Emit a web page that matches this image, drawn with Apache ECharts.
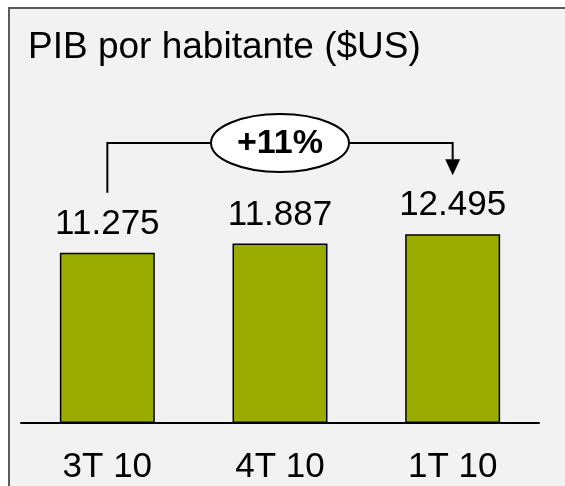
<!DOCTYPE html>
<html>
<head>
<meta charset="utf-8">
<script src="https://cdn.jsdelivr.net/npm/echarts@6/dist/echarts.min.js"></script>
<style>
  html, body { margin: 0; padding: 0; background: #ffffff; }
  #chart { width: 565px; height: 486px; }
</style>
</head>
<body>
<div id="chart"></div>
<script>
// PIB por habitante, trimestral
const categories = ['3T 10', '4T 10', '1T 10'];
const values = [11275, 11887, 12495];
const valueLabels = ['11.275', '11.887', '12.495'];
const titleText = 'PIB por habitante ($US)';

const FONT = '"Liberation Sans", Arial, sans-serif';
const chart = echarts.init(document.getElementById('chart'), null, { renderer: 'canvas' });

const option = {
  animation: false,
  backgroundColor: '#ffffff',
  title: {
    text: titleText,
    left: 28,
    top: 29,
    padding: 0,
    textStyle: { fontFamily: FONT, fontSize: 37, fontWeight: 'normal', color: '#000000' }
  },
  grid: { left: 21, right: 26, top: 121, bottom: 63 },
  xAxis: {
    type: 'category',
    data: categories,
    axisLine: { lineStyle: { color: '#000000', width: 2 } },
    axisTick: { show: false },
    axisLabel: { fontFamily: FONT, fontSize: 35, color: '#000000', margin: 27 }
  },
  yAxis: {
    type: 'value',
    min: 0,
    max: 20000,
    show: false,
    splitLine: { show: false }
  },
  series: [{
    type: 'bar',
    data: values,
    barWidth: '55%',
    itemStyle: { color: '#9bac00', borderColor: '#000000', borderWidth: 1.5 },
    label: {
      show: true,
      position: 'top',
      distance: 11,
      fontFamily: FONT,
      fontSize: 35,
      color: '#000000',
      formatter: p => valueLabels[p.dataIndex]
    }
  }]
};
chart.setOption(option);

// Growth bracket from the first to the last quarter
const first = chart.convertToPixel({ gridIndex: 0 }, [0, values[0]]);
const last = chart.convertToPixel({ gridIndex: 0 }, [values.length - 1, values[values.length - 1]]);
const growth = Math.round((values[values.length - 1] / values[0] - 1) * 100);
const lineY = 143;
const startY = first[1] - 60;
const tipY = last[1] - 59;
const midX = (first[0] + last[0]) / 2;
const lineStyle = { stroke: '#000000', lineWidth: 2 };

chart.setOption({
  graphic: [
    {
      type: 'rect', z: -10, silent: true,
      shape: { x: 9, y: 8, width: 600, height: 600 },
      style: { fill: '#f2f2f2', stroke: '#5a5a5a', lineWidth: 2 }
    },
    {
      type: 'polyline', silent: true,
      shape: { points: [[first[0], startY], [first[0], lineY], [last[0], lineY], [last[0], tipY - 16]] },
      style: Object.assign({ fill: null }, lineStyle)
    },
    {
      type: 'polygon', silent: true,
      shape: { points: [[last[0] - 7.5, tipY - 16], [last[0] + 7.5, tipY - 16], [last[0], tipY]] },
      style: { fill: '#000000' }
    },
    {
      type: 'ellipse', silent: true,
      shape: { cx: midX, cy: lineY, rx: 69, ry: 29 },
      style: { fill: '#ffffff', stroke: '#000000', lineWidth: 2 }
    },
    {
      type: 'text', silent: true,
      x: midX, y: lineY + 1,
      style: {
        text: '+' + growth + '%',
        fontFamily: FONT, fontSize: 34, fontWeight: 'bold', fill: '#000000',
        align: 'center', verticalAlign: 'middle'
      }
    }
  ]
});
</script>
</body>
</html>
